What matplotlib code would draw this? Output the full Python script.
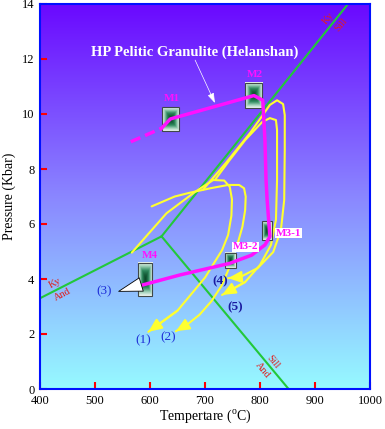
import numpy as np
import matplotlib
matplotlib.use('Agg')
import matplotlib.pyplot as plt
from matplotlib.colors import LinearSegmentedColormap
from matplotlib.patches import Rectangle

plt.rcParams['font.family'] = ['Liberation Serif', 'DejaVu Serif']
plt.rcParams['mathtext.fontset'] = 'custom'
plt.rcParams['mathtext.rm'] = 'Liberation Serif'

# reaction lines (T in C, P in kbar)
ky_and_T = [400, 621]
ky_and_P = [3.3, 5.55]
ky_sill_T = [621, 960]
ky_sill_P = [5.55, 14.0]
sill_and_T = [621, 852]
sill_and_P = [5.55, 0.0]

# magenta P-T path of this study
path_dash_T = [565, 621]
path_dash_P = [8.99, 9.48]
path_T = [621, 637, 789, 805, 809, 811, 813, 818, 809, 785, 745, 655, 573]
path_P = [9.48, 9.82, 10.67, 10.5, 9.05, 7.6, 6.87, 5.54, 5.24, 4.87, 4.57, 4.15, 3.71]

# mineral assemblage boxes: name, center T, center P, width, height
box_names = ['M1', 'M2', 'M3-1', 'M3-2', 'M4']
box_T = [637, 789, 812, 747, 591]
box_P = [9.82, 10.67, 5.75, 4.67, 3.98]
box_w = [31, 31, 18, 20, 27]
box_h = [0.87, 0.93, 0.69, 0.55, 1.2]
label_T = [639, 791, 851, 773, 600]
label_P = [10.57, 11.42, 5.67, 5.17, 4.87]

# other P-T paths (yellow)
p1_T = [567, 630, 682, 715, 735, 745, 749, 748, 742, 731, 700, 650, 597]
p1_P = [4.96, 6.39, 7.17, 7.6, 7.58, 7.35, 6.9, 6.3, 5.6, 5.05, 4.05, 2.85, 2.08]
p2_T = [603, 645, 673, 710, 742, 762, 771, 774, 773, 768, 758, 745, 730, 712, 690, 668, 647]
p2_P = [6.64, 7.0, 7.14, 7.3, 7.42, 7.42, 7.3, 7.0, 6.5, 5.9, 5.2, 4.45, 3.75, 3.2, 2.7, 2.35, 2.1]
p4_T = [696, 738, 782, 804, 818, 831, 842, 845, 845, 844, 838, 824, 796, 764, 742]
p4_P = [7.24, 8.22, 9.31, 9.93, 10.33, 10.5, 10.36, 9.96, 8.69, 6.87, 5.78, 4.98, 4.4, 4.07, 4.03]
p5_T = [718, 745, 773, 804, 818, 829, 831, 831, 829, 820, 800, 773, 731]
p5_P = [7.6, 8.33, 9.05, 9.71, 9.85, 9.78, 9.42, 7.6, 6.15, 5.24, 4.51, 3.89, 3.42]

num_labels = ['(1)', '(2)', '(3)', '(4)', '(5)']
num_T = [587, 633, 516, 727, 755]
num_P = [1.78, 1.89, 3.56, 3.93, 2.98]
num_bold = [False, False, False, True, True]

fig = plt.figure(figsize=(3.85, 4.29), dpi=100)
ax = fig.add_axes([40/385, 40/429, 330/385, 385/429])

# background gradient
bg = LinearSegmentedColormap.from_list('bg', ['#96faff', '#8a86ff', '#6a08ff'])
grad = np.linspace(0, 1, 256).reshape(-1, 1)
ax.imshow(grad, cmap=bg, origin='lower', extent=[400, 1000, 0, 14], aspect='auto', zorder=0)

green = '#22c83a'
ax.plot(ky_and_T, ky_and_P, color=green, lw=1.5, zorder=2)
ax.plot(ky_sill_T, ky_sill_P, color=green, lw=1.5, zorder=2)
ax.plot(sill_and_T, sill_and_P, color=green, lw=1.5, zorder=2)

yellow = '#ffff30'
for T, P in [(p1_T, p1_P), (p2_T, p2_P), (p4_T, p4_P), (p5_T, p5_P)]:
    ax.plot(T, P, color=yellow, lw=1.5, zorder=3, solid_capstyle='round', solid_joinstyle='round')
    ax.annotate('', xy=(T[-1], P[-1]), xytext=(T[-2], P[-2]),
                arrowprops=dict(arrowstyle='-|>,head_length=0.8,head_width=0.35', color=yellow,
                                lw=1.5, shrinkA=0, shrinkB=0), zorder=3)

# boxes
box_cmap = LinearSegmentedColormap.from_list('box', ['#0b4a2a', '#2e8a5e', '#9fd0b8', '#eef6f0'])
u = np.linspace(-1, 1, 40)
U, V = np.meshgrid(u, u)
shade = np.maximum(np.abs(U) ** 1.3, np.abs(V) ** 1.6)
for T, P, w, h in zip(box_T, box_P, box_w, box_h):
    ext = [T - w/2, T + w/2, P - h/2, P + h/2]
    ax.imshow(shade, cmap=box_cmap, extent=ext, aspect='auto', zorder=4)
    ax.add_patch(Rectangle((T - w/2, P - h/2), w, h, fill=False, ec='#404848', lw=0.8, zorder=4))

magenta = '#ff10ff'
ax.plot(path_dash_T, path_dash_P, color=magenta, lw=2.5, ls=(0, (3, 1.5)), zorder=5)
ax.plot(path_T, path_P, color=magenta, lw=2.5, zorder=5, solid_joinstyle='round')

for name, T, P in zip(box_names, label_T, label_P):
    if name in ('M3-1', 'M3-2'):
        ax.text(T, P, name, color=magenta, fontsize=8, fontweight='bold', ha='center', va='center',
                bbox=dict(fc='white', ec='none', pad=0.6), zorder=6)
    else:
        ax.text(T, P, name, color=magenta, fontsize=8, fontweight='bold', ha='center', va='center', zorder=6)

for lab, T, P, b in zip(num_labels, num_T, num_P, num_bold):
    ax.text(T, P, lab, color='#1a1aa0' if b else '#2030d8', fontsize=9.5,
            fontweight='bold' if b else 'normal', ha='center', va='center', zorder=6)

# arrow (3)
ax.annotate('', xy=(543, 3.55), xytext=(584, 3.8),
            arrowprops=dict(arrowstyle='simple,head_length=1.7,head_width=1.0,tail_width=0.05',
                            fc='white', ec='black', lw=0.6, shrinkA=0, shrinkB=0), zorder=6)

# title text and pointer
ax.text(682, 12.25, 'HP Pelitic Granulite (Helanshan)', color='white', fontsize=10.5,
        fontweight='bold', ha='center', va='center', zorder=6)
ax.annotate('', xy=(718, 10.4), xytext=(682, 11.96),
            arrowprops=dict(arrowstyle='-|>,head_length=0.6,head_width=0.2', color='white',
                            lw=0.5, shrinkA=0, shrinkB=0), zorder=6)

red = '#e02020'
ax.text(427, 3.85, 'Ky', color=red, fontsize=7.5, rotation=28, ha='center', va='center', zorder=6)
ax.text(442, 3.42, 'And', color=red, fontsize=7.5, rotation=28, ha='center', va='center', zorder=6)
ax.text(924, 13.49, 'Ky', color=red, fontsize=7.5, rotation=50, ha='center', va='center', zorder=6)
ax.text(947, 13.24, 'Sill', color=red, fontsize=7.5, rotation=50, ha='center', va='center', zorder=6)
ax.text(824, 0.99, 'Sill', color=red, fontsize=7.5, rotation=-50, ha='center', va='center', zorder=6)
ax.text(805, 0.69, 'And', color=red, fontsize=7.5, rotation=-50, ha='center', va='center', zorder=6)

ax.set_xlim(400, 1000)
ax.set_ylim(0, 14)
ax.set_xticks(range(400, 1001, 100))
ax.set_yticks(range(0, 15, 2))
ax.tick_params(direction='in', color='red', width=1.5, length=5, labelsize=9, pad=4)
for s in ax.spines.values():
    s.set_color('#0010ff')
    s.set_linewidth(1.5)
ax.set_xlabel('Tempertare ($^{\\rm o}$C)', fontsize=10, labelpad=1)
ax.set_ylabel('Pressure (Kbar)', fontsize=10, labelpad=4)

fig.savefig('out.png', dpi=100)
